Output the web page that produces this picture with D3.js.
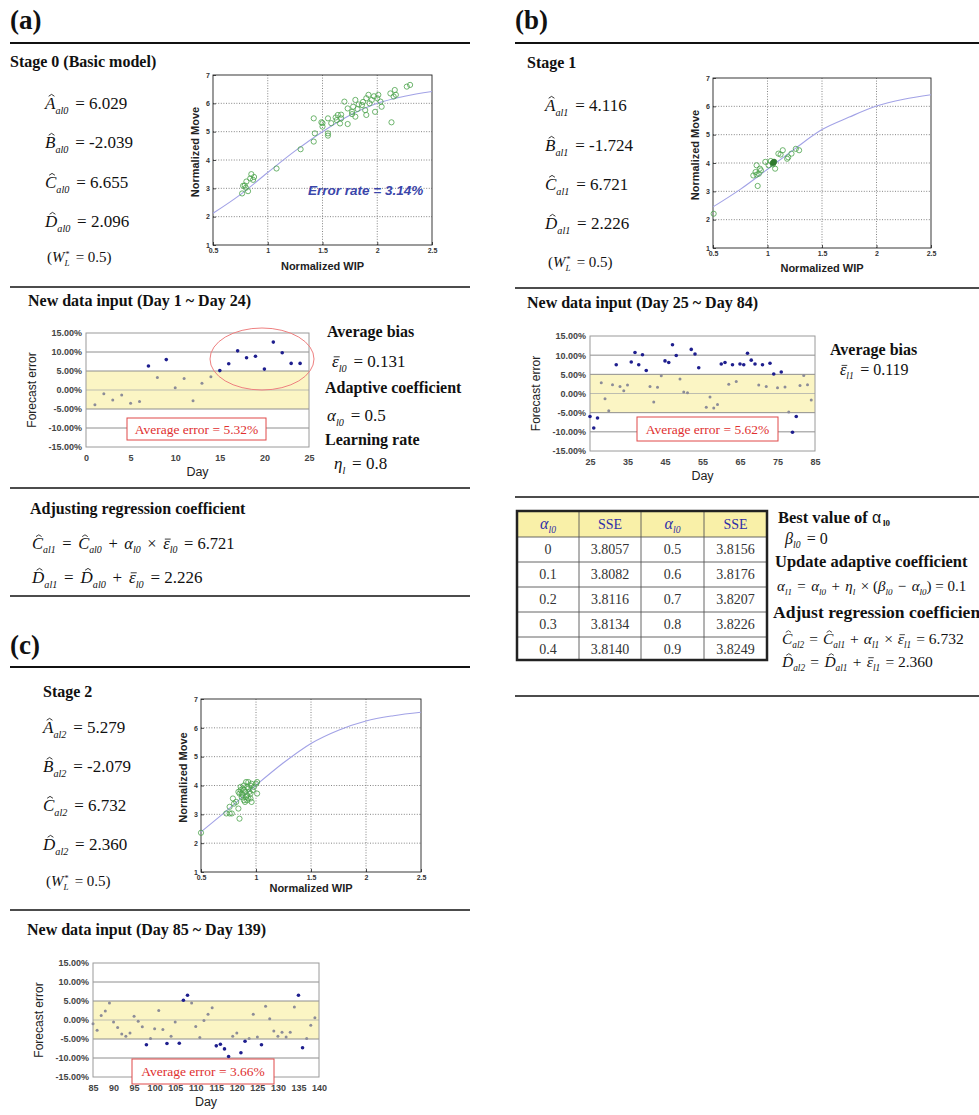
<!DOCTYPE html>
<html>
<head>
<meta charset="utf-8">
<script src="https://cdn.jsdelivr.net/npm/d3@7"></script>
<style>
  body { margin: 0; background: #fff; }
  svg { display: block; }
  text { white-space: pre; }
</style>
</head>
<body>
<div id="chart"></div>
<script>
// ---- data ----

// fitted curves, [normalized WIP, normalized move]
const curveA = [[0.5,2.12],[0.75,2.78],[1,3.56],[1.25,4.32],[1.5,5.0],[1.75,5.58],[2,6.0],[2.25,6.25],[2.5,6.42]];
const curveB = [[0.5,2.45],[0.75,3.07],[1,3.78],[1.25,4.5],[1.5,5.18],[1.75,5.62],[2,6.01],[2.25,6.25],[2.5,6.41]];
const curveC = [[0.5,2.39],[0.75,3.18],[1,4.01],[1.25,4.79],[1.5,5.46],[1.75,5.92],[2,6.24],[2.25,6.42],[2.5,6.54]];

// observed points
const pointsA = [[0.766,2.82],[0.775,3.09],[0.80,3.02],[0.82,2.9],[0.805,3.24],[0.84,3.35],[0.85,3.5],[0.866,3.3],
  [0.875,3.4],[0.79,3.1],[1.08,3.7],[1.30,4.38],[1.42,4.65],[1.43,4.94],[1.42,5.47],[1.49,5.33],[1.5,5.18],
  [1.55,4.94],[1.55,4.86],[1.55,5.47],[1.63,5.41],[1.64,5.59],[1.66,5.29],[1.67,5.47],[1.70,6.06],[1.73,5.82],
  [1.73,5.27],[1.77,5.7],[1.78,5.88],[1.8,5.53],[1.8,6.12],[1.83,5.96],[1.86,5.94],[1.89,5.76],[1.9,5.59],
  [1.9,6.18],[1.92,6.3],[1.93,6.0],[1.95,6.12],[1.98,5.7],[2.0,6.18],[2.01,6.3],[2.03,6.06],[2.04,5.88],
  [2.12,6.35],[2.13,5.33],[2.15,6.24],[2.16,6.47],[2.27,6.59],[2.30,6.65],[1.77,5.62],[1.82,5.8],[1.67,5.6],
  [1.62,5.5],[1.58,5.3],[1.5,5.3],[1.87,6.05],[1.97,6.25],[2.17,6.3]];
const pointsB = [[0.506,2.21],[0.87,3.56],[0.89,3.68],[0.90,3.92],[0.91,3.19],[0.93,3.8],[0.94,3.74],[0.92,3.62],
  [0.98,4.04],[1.03,4.07],[1.07,3.8],[1.10,4.33],[1.14,4.45],[1.18,4.15],[1.19,4.2],[1.22,4.33],[1.26,4.5],
  [1.29,4.45],[0.9,3.59],[1.01,3.92],[1.05,3.95],[1.12,4.3]];
const pointsBFilled = [[1.05,4.0],[1.06,4.04]];
const pointsC = [[0.5,2.36],[0.73,3.03],[0.76,3.03],[0.78,3.03],[0.76,3.26],[0.79,3.55],[0.82,3.43],[0.84,3.2],
  [0.85,2.85],[0.85,3.72],[0.86,3.84],[0.87,3.6],[0.88,3.89],[0.89,3.49],[0.89,4.0],[0.90,3.78],[0.91,4.12],
  [0.92,3.66],[0.92,3.49],[0.93,3.89],[0.93,4.12],[0.95,4.0],[0.95,3.72],[0.95,3.55],[0.96,4.06],[0.97,3.84],
  [1.0,4.06],[1.01,3.72],[1.01,4.12],[0.84,3.78],[0.86,3.95],[0.90,3.43],[0.92,3.95],[0.80,3.37],[0.88,3.66],
  [0.94,3.78],[0.98,3.95],[0.87,3.72],[0.96,3.43],[0.91,3.6],[0.89,3.85],[0.93,3.55]];

// forecast errors, [day, percent]
const errA = [[1,-3.9],[2,-1.0],[3,-2.6],[4,-1.3],[5,-3.5],[6,-3.0],[7,6.3],[8,3.3],[9,8.0],[10,0.6],[11,3.0],
  [12,-2.8],[13,1.8],[14,3.5],[15,5.1],[16,6.9],[17,10.3],[18,8.5],[19,8.9],[20,5.5],[21,12.6],[22,9.8],[23,7.0],[24,7.0]];
const errB = [[25,-6.0],[26,-9.0],[27,-6.4],[28,2.8],[29,-1.4],[30,-4.5],[31,2.3],[32,7.5],[33,1.8],[34,0.7],
  [35,2.2],[36,8.2],[37,10.7],[38,7.5],[39,10.1],[40,6.0],[41,1.8],[42,-2.2],[43,1.6],[44,4.6],[45,8.5],[46,8.1],
  [47,12.7],[48,9.9],[49,3.8],[50,0.4],[51,0.2],[52,11.5],[53,10.3],[54,6.7],[56,-3.6],[57,-0.9],[58,-3.8],
  [59,-2.9],[60,7.7],[61,8.1],[62,2.4],[63,7.5],[64,3.1],[65,7.7],[66,7.5],[67,10.5],[68,8.7],[69,7.7],[70,2.2],
  [71,7.5],[72,1.8],[73,7.9],[74,5.1],[75,1.5],[76,5.6],[77,1.7],[78,-4.8],[79,-10.1],[80,-6.0],[81,2.1],
  [82,4.7],[83,2.3],[84,-1.7]];
const errC = [[85,-1.0],[86,-2.7],[87,1.2],[88,2.4],[89,4.5],[90,-0.5],[91,-2.0],[92,-3.7],[93,-4.3],[94,-3.4],
  [95,1.0],[96,-0.3],[97,-1.8],[98,-6.5],[99,-4.9],[100,-2.3],[101,2.5],[102,-2.5],[103,-6.2],[104,-4.3],
  [105,-0.5],[106,-6.1],[107,5.2],[108,6.5],[109,4.5],[110,-1.7],[111,-4.6],[112,-0.1],[113,1.5],[114,3.2],
  [115,-6.8],[116,-6.4],[117,-7.6],[118,-9.6],[119,-4.3],[120,-3.4],[121,-8.6],[122,-5.6],[123,-4.9],[124,1.5],
  [125,-4.5],[126,-6.5],[127,3.6],[128,0.3],[129,-2.9],[130,-4.3],[131,-3.2],[132,-4.5],[133,-3.2],[134,3.4],
  [135,6.5],[136,-7.3],[137,-4.9],[138,-1.4],[139,0.6]];

// ticks
const wipTicks = [0.5, 1, 1.5, 2, 2.5];
const wipLabels = ["0.5", "1", "1.5", "2", "2.5"];
const moveTicks = [1, 2, 3, 4, 5, 6, 7];
const pctTicks = [15, 10, 5, 0, -5, -10, -15];
const pctLabels = ["15.00%", "10.00%", "5.00%", "0.00%", "-5.00%", "-10.00%", "-15.00%"];
const dayTicksA = [0, 5, 10, 15, 20, 25];
const dayTicksB = [25, 35, 45, 55, 65, 75, 85];
const dayTicksC = [85, 90, 95, 100, 105, 110, 115, 120, 125, 130, 135, 140];

// SSE table
const alphaLeft = ["0", "0.1", "0.2", "0.3", "0.4"];
const sseLeft = ["3.8057", "3.8082", "3.8116", "3.8134", "3.8140"];
const alphaRight = ["0.5", "0.6", "0.7", "0.8", "0.9"];
const sseRight = ["3.8156", "3.8176", "3.8207", "3.8226", "3.8249"];

// ---- drawing ----
const SERIF = "'Liberation Serif', 'Times New Roman', serif";
const SANS = "'Liberation Sans', Arial, sans-serif";
const HEAD = 16;

const svg = d3.select("#chart").append("svg")
  .attr("width", 979).attr("height", 1115)
  .style("font-family", SERIF);
svg.append("rect").attr("width", 979).attr("height", 1115).attr("fill", "#fff");

function label(x, y, txt, size, opts = {}) {
  return svg.append("text")
    .attr("x", x).attr("y", y)
    .attr("font-size", size)
    .attr("font-weight", opts.weight || "bold")
    .attr("font-family", opts.family || SERIF)
    .attr("font-style", opts.style || "normal")
    .attr("text-anchor", opts.anchor || "start")
    .attr("fill", opts.color || "#111")
    .text(txt);
}

function rule(x1, x2, y, w) {
  svg.append("line").attr("x1", x1).attr("x2", x2).attr("y1", y).attr("y2", y)
    .attr("stroke", "#111").attr("stroke-width", w);
}

// tiny formula markup: ^X hat, ~X bar, _{..} subscript, ` stacked star
function parseMath(s) {
  const out = [];
  let i = 0;
  while (i < s.length) {
    const c = s[i];
    if (c === "^" || c === "~") {
      out.push({ t: s[i + 1], it: true, hat: c === "^", bar: c === "~" });
      i += 2;
    } else if (c === "_" && s[i + 1] === "{") {
      const j = s.indexOf("}", i);
      out.push({ t: s.slice(i + 2, j), it: true, sub: true });
      i = j + 1;
    } else if (c === "`") {
      out.push({ t: "*", star: true });
      i++;
    } else if (/[A-Za-z\u03b1-\u03c9]/.test(c)) {
      out.push({ t: c, it: true });
      i++;
    } else {
      let j = i;
      while (j < s.length && !/[\^~_`A-Za-z\u03b1-\u03c9]/.test(s[j])) j++;
      out.push({ t: s.slice(i, j), it: false });
      i = j;
    }
  }
  return out;
}

function mathText(x, y, src, size, opts = {}) {
  const color = opts.color || "#111";
  const gap = size * (opts.gap || 0.4);
  const g = svg.append("g");
  let cx = 0, lastSubX = 0;
  parseMath(src).forEach(p => {
    if (p.star) {
      const t = g.append("text").attr("x", lastSubX + 1).attr("y", y - size * 0.32)
        .attr("font-size", size * 0.55).attr("fill", color).text("*");
      cx = Math.max(cx, lastSubX + 1 + t.node().getComputedTextLength());
      return;
    }
    let txt = p.t;
    if (!p.it) {
      const lead = txt.length - txt.trimStart().length;
      const trail = txt.length - txt.trimEnd().length;
      cx += lead * gap;
      txt = txt.trim();
      p.trail = trail;
    }
    const fs = p.sub ? size * 0.6 : size;
    const dy = p.sub ? size * 0.27 : 0;
    let w = 0;
    if (txt.length) {
      const t = g.append("text").attr("x", cx).attr("y", y + dy)
        .attr("font-size", fs).attr("font-style", p.it ? "italic" : "normal")
        .attr("fill", color).text(txt);
      w = t.node().getComputedTextLength();
    }
    if (p.hat) {
      const hx = cx + w / 2 + size * 0.08, hy = y - size * 0.86;
      g.append("path")
        .attr("d", `M${hx - size * 0.17},${hy + size * 0.11}L${hx},${hy}L${hx + size * 0.17},${hy + size * 0.11}`)
        .attr("fill", "none").attr("stroke", color).attr("stroke-width", size * 0.05);
    }
    if (p.bar) {
      g.append("line").attr("x1", cx + size * 0.1).attr("x2", cx + w + size * 0.06)
        .attr("y1", y - size * 0.6).attr("y2", y - size * 0.6)
        .attr("stroke", color).attr("stroke-width", size * 0.05);
    }
    if (p.sub) lastSubX = cx;
    cx += w;
    if (p.trail) cx += p.trail * gap;
  });
  const shift = opts.anchor === "middle" ? x - cx / 2 : x;
  g.attr("transform", `translate(${shift},0)`);
  return g;
}

function scatterChart(cfg) {
  const x = d3.scaleLinear().domain([0.5, 2.5]).range([cfg.x0, cfg.x1]);
  const y = d3.scaleLinear().domain([1, 7]).range([cfg.y1, cfg.y0]);
  const g = svg.append("g");

  g.selectAll(".gx").data(wipTicks.slice(1, -1)).join("line")
    .attr("x1", d => x(d)).attr("x2", d => x(d)).attr("y1", cfg.y0).attr("y2", cfg.y1)
    .attr("stroke", "#666").attr("stroke-width", 0.8).attr("stroke-dasharray", "1,1.6");
  g.selectAll(".gy").data(moveTicks.slice(1, -1)).join("line")
    .attr("x1", cfg.x0).attr("x2", cfg.x1).attr("y1", d => y(d)).attr("y2", d => y(d))
    .attr("stroke", "#666").attr("stroke-width", 0.8).attr("stroke-dasharray", "1,1.6");

  g.append("rect").attr("x", cfg.x0).attr("y", cfg.y0)
    .attr("width", cfg.x1 - cfg.x0).attr("height", cfg.y1 - cfg.y0)
    .attr("fill", "none").attr("stroke", "#222").attr("stroke-width", 0.9);

  const ax = g.append("g").attr("transform", `translate(0,${cfg.y1})`)
    .call(d3.axisBottom(x).tickValues(wipTicks).tickFormat((d, i) => wipLabels[i]).tickSize(-3).tickPadding(3));
  const ay = g.append("g").attr("transform", `translate(${cfg.x0},0)`)
    .call(d3.axisLeft(y).tickValues(moveTicks).tickFormat(d3.format("d")).tickSize(-3).tickPadding(3));
  [ax, ay].forEach(a => {
    a.select(".domain").remove();
    a.selectAll("line").attr("stroke", "#222").attr("stroke-width", 0.8);
    a.selectAll("text").attr("font-family", SANS).attr("font-weight", "bold")
      .attr("font-size", 7).attr("fill", "#333");
  });

  g.append("path").datum(cfg.curve)
    .attr("d", d3.line().x(d => x(d[0])).y(d => y(d[1])).curve(d3.curveMonotoneX))
    .attr("fill", "none").attr("stroke", "#a2a2e6").attr("stroke-width", 1.1);

  g.selectAll(".pt").data(cfg.points).join("circle")
    .attr("cx", d => x(d[0])).attr("cy", d => y(d[1])).attr("r", 2.6)
    .attr("fill", "none").attr("stroke", "#4aa24a").attr("stroke-width", 0.8);
  if (cfg.filled) {
    g.selectAll(".pf").data(cfg.filled).join("circle")
      .attr("cx", d => x(d[0])).attr("cy", d => y(d[1])).attr("r", 2.8)
      .attr("fill", "#2f7a2f").attr("stroke", "#2f7a2f").attr("stroke-width", 0.6);
  }

  g.append("text").attr("transform", `translate(${cfg.x0 - 14},${(cfg.y0 + cfg.y1) / 2 - 8}) rotate(-90)`)
    .attr("text-anchor", "middle").attr("font-family", SANS).attr("font-weight", "bold")
    .attr("font-size", 11).attr("fill", "#222").text("Normalized Move");
  g.append("text").attr("x", (cfg.x0 + cfg.x1) / 2).attr("y", cfg.y1 + cfg.wipDy)
    .attr("text-anchor", "middle").attr("font-family", SANS).attr("font-weight", "bold")
    .attr("font-size", 11).attr("fill", "#222").text("Normalized WIP");
  return { x, y };
}

function errorChart(cfg) {
  const x = d3.scaleLinear().domain(cfg.domain).range([cfg.x0, cfg.x1]);
  const y = d3.scaleLinear().domain([-15, 15]).range([cfg.y1, cfg.y0]);
  const g = svg.append("g");

  g.append("rect").attr("x", cfg.x0).attr("y", y(5))
    .attr("width", cfg.x1 - cfg.x0).attr("height", y(-5) - y(5)).attr("fill", "#fbf5c4");
  g.selectAll(".gl").data(pctTicks.slice(1, -1)).join("line")
    .attr("x1", cfg.x0).attr("x2", cfg.x1).attr("y1", d => y(d)).attr("y2", d => y(d))
    .attr("stroke", d => d === 0 ? "#bdbdb0" : "#8e8e8e").attr("stroke-width", 1);
  g.append("rect").attr("x", cfg.x0).attr("y", cfg.y0)
    .attr("width", cfg.x1 - cfg.x0).attr("height", cfg.y1 - cfg.y0)
    .attr("fill", "none").attr("stroke", "#9a9a9a").attr("stroke-width", 1);

  const ay = g.append("g").attr("transform", `translate(${cfg.x0},0)`)
    .call(d3.axisLeft(y).tickValues(pctTicks).tickFormat((d, i) => pctLabels[i]).tickSize(0).tickPadding(4));
  const ax = g.append("g").attr("transform", `translate(0,${cfg.y1})`)
    .call(d3.axisBottom(x).tickValues(cfg.ticks).tickSize(0).tickPadding(8));
  [ax, ay].forEach(a => {
    a.select(".domain").remove();
    a.selectAll("text").attr("font-family", SANS).attr("font-weight", "bold")
      .attr("font-size", 9).attr("fill", "#444");
  });

  g.selectAll(".dot").data(cfg.data).join("circle")
    .attr("cx", d => x(d[0])).attr("cy", d => y(d[1]))
    .attr("r", d => Math.abs(d[1]) > 5 ? 1.8 : 1.5)
    .attr("fill", d => Math.abs(d[1]) > 5 ? "#1e1e8e" : "#8c8c98");

  g.append("text").attr("transform", `translate(${cfg.x0 - 50},${(cfg.y0 + cfg.y1) / 2}) rotate(-90)`)
    .attr("text-anchor", "middle").attr("font-family", SANS).attr("font-size", 12)
    .attr("fill", "#222").text("Forecast error");
  g.append("text").attr("x", (cfg.x0 + cfg.x1) / 2).attr("y", cfg.y1 + 29)
    .attr("text-anchor", "middle").attr("font-family", SANS).attr("font-size", 12.5)
    .attr("fill", "#222").text("Day");

  const b = cfg.box;
  g.append("rect").attr("x", b[0]).attr("y", b[1]).attr("width", b[2] - b[0]).attr("height", b[3] - b[1])
    .attr("fill", "#fff").attr("stroke", "#e04848").attr("stroke-width", 1);
  g.append("text").attr("x", (b[0] + b[2]) / 2).attr("y", (b[1] + b[3]) / 2 + 4.5)
    .attr("text-anchor", "middle").attr("font-size", 13.5).attr("fill", "#e03030").text(cfg.boxText);
  return { x, y };
}

// ================= panel (a) =================
label(10, 29, "(a)", 27);
rule(10, 470, 43, 2);
label(10, 67, "Stage 0 (Basic model)", HEAD);
mathText(45, 109, "^A_{al0} = 6.029", 17);
mathText(45, 148, "^B_{al0} = -2.039", 17);
mathText(45, 188, "^C_{al0} = 6.655", 17);
mathText(45, 227, "^D_{al0} = 2.096", 17);
mathText(47, 262, "(W_{L}` = 0.5)", 15);

scatterChart({ x0: 213, x1: 432, y0: 75, y1: 245, wipDy: 25, curve: curveA, points: pointsA });
label(308, 195, "Error rate = 3.14%", 13.5, { family: SANS, style: "italic", color: "#3a46aa" });

rule(10, 470, 287, 1.5);
label(28, 306, "New data input (Day 1 ~ Day 24)", HEAD);
errorChart({ x0: 86, x1: 309, y0: 333, y1: 447, domain: [0, 25], ticks: dayTicksA, data: errA,
  box: [127, 418, 266, 440], boxText: "Average error = 5.32%" });
svg.append("ellipse").attr("cx", 262).attr("cy", 359).attr("rx", 52).attr("ry", 31)
  .attr("fill", "none").attr("stroke", "#ee8080").attr("stroke-width", 1);

label(327, 337, "Average bias", HEAD);
mathText(332, 367, "~ε_{l0} = 0.131", 17);
label(325, 393, "Adaptive coefficient", HEAD);
mathText(327, 421, "α_{l0} = 0.5", 17);
label(325, 445, "Learning rate", HEAD);
mathText(334, 469, "η_{l} = 0.8", 17);

rule(10, 470, 488, 1.5);
label(30, 514, "Adjusting regression coefficient", HEAD);
mathText(32, 549, "^C_{al1} = ^C_{al0} + α_{l0} × ~ε_{l0} = 6.721", 16.5);
mathText(32, 583, "^D_{al1} = ^D_{al0} + ~ε_{l0} = 2.226", 17);
rule(10, 470, 596, 1.5);

// ================= panel (b) =================
label(515, 29, "(b)", 27);
rule(515, 979, 43, 2);
label(527, 68, "Stage 1", HEAD);
mathText(545, 111, "^A_{al1} = 4.116", 17);
mathText(545, 151, "^B_{al1} = -1.724", 17);
mathText(545, 190, "^C_{al1} = 6.721", 17);
mathText(545, 229, "^D_{al1} = 2.226", 17);
mathText(548, 267, "(W_{L}` = 0.5)", 15);

scatterChart({ x0: 713, x1: 931, y0: 78, y1: 248, wipDy: 24, curve: curveB, points: pointsB, filled: pointsBFilled });

rule(515, 979, 288, 1.5);
label(527, 308, "New data input (Day 25 ~ Day 84)", HEAD);
errorChart({ x0: 590, x1: 815, y0: 336, y1: 451, domain: [25, 85], ticks: dayTicksB, data: errB,
  box: [637, 417, 778, 441], boxText: "Average error = 5.62%" });
label(830, 355, "Average bias", HEAD);
mathText(840, 375, "~ε_{l1} = 0.119", 16);

rule(515, 979, 497, 1.5);

// SSE table
const tx = [517, 579, 641, 704, 767];
const ty = [511, 537, 562, 587, 612, 637, 660];
const tbl = svg.append("g");
tbl.append("rect").attr("x", tx[0]).attr("y", ty[0]).attr("width", tx[4] - tx[0]).attr("height", ty[1] - ty[0])
  .attr("fill", "#f9f0a8");
tx.slice(1, -1).forEach(v => tbl.append("line").attr("x1", v).attr("x2", v).attr("y1", ty[0]).attr("y2", ty[6])
  .attr("stroke", "#555").attr("stroke-width", 0.9));
ty.slice(1, -1).forEach(v => tbl.append("line").attr("x1", tx[0]).attr("x2", tx[4]).attr("y1", v).attr("y2", v)
  .attr("stroke", "#555").attr("stroke-width", 0.9));
tbl.append("rect").attr("x", tx[0]).attr("y", ty[0]).attr("width", tx[4] - tx[0]).attr("height", ty[6] - ty[0])
  .attr("fill", "none").attr("stroke", "#222").attr("stroke-width", 2.5);
const mid = i => (tx[i] + tx[i + 1]) / 2;
[0, 2].forEach(c => mathText(mid(c), ty[1] - 8, "α_{l0}", 16, { color: "#2e2ea8", anchor: "middle" }));
[1, 3].forEach(c => label(mid(c), ty[1] - 8, "SSE", 14, { weight: "normal", anchor: "middle", color: "#2e2ea8" }));
const cols = [alphaLeft, sseLeft, alphaRight, sseRight];
cols.forEach((col, c) => col.forEach((v, r) =>
  label(mid(c), ty[r + 1] + 17, v, 14, { weight: "normal", anchor: "middle", color: "#333" })));

label(778, 523, "Best value of ", 16.5);
label(872, 523, "α", 16, { family: SANS, weight: "normal" });
label(883, 526, "l0", 9, { weight: "bold" });
mathText(785, 544, "β_{l0} = 0", 16);
label(775, 567, "Update adaptive coefficient", 16.5);
mathText(777, 591, "α_{l1} = α_{l0} + η_{l} × (β_{l0} − α_{l0}) = 0.1", 15, { gap: 0.36 });
label(773, 618, "Adjust regression coefficient", 16.5).attr("textLength", 213).attr("lengthAdjust", "spacingAndGlyphs");
mathText(782, 644, "^C_{al2} = ^C_{al1} + α_{l1} × ~ε_{l1} = 6.732", 15.5, { gap: 0.32 });
mathText(782, 667, "^D_{al2} = ^D_{al1} + ~ε_{l1} = 2.360", 15.5, { gap: 0.34 });
rule(515, 979, 696, 1.5);

// ================= panel (c) =================
label(10, 654, "(c)", 27);
rule(10, 470, 667, 2);
label(43, 697, "Stage 2", HEAD);
mathText(43, 733, "^A_{al2} = 5.279", 17);
mathText(43, 772, "^B_{al2} = -2.079", 17);
mathText(43, 811, "^C_{al2} = 6.732", 17);
mathText(43, 850, "^D_{al2} = 2.360", 17);
mathText(46, 886, "(W_{L}` = 0.5)", 15);

scatterChart({ x0: 201, x1: 421, y0: 699, y1: 872, wipDy: 20, curve: curveC, points: pointsC });

rule(10, 470, 910, 1.5);
label(27, 935, "New data input (Day 85 ~ Day 139)", HEAD);
errorChart({ x0: 93, x1: 319, y0: 963, y1: 1077, domain: [85, 140], ticks: dayTicksC, data: errC,
  box: [132, 1059, 274, 1084], boxText: "Average error = 3.66%" });
</script>
</body>
</html>
